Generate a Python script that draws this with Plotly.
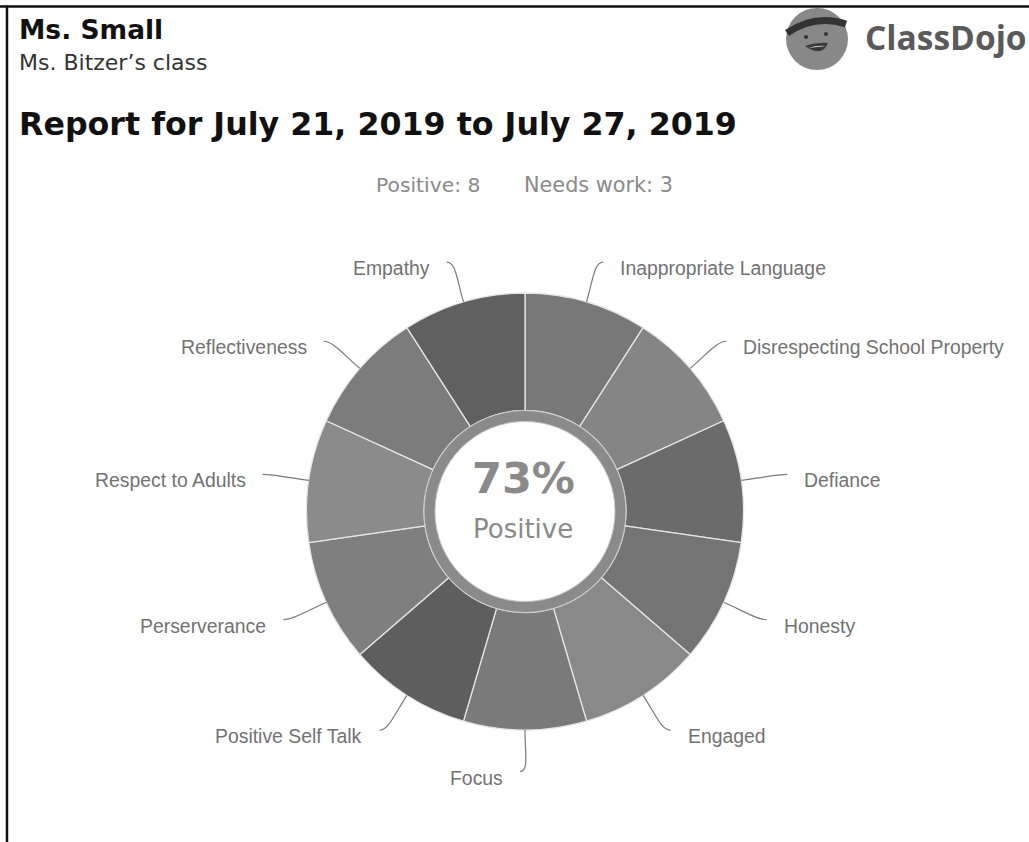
import math
import plotly.graph_objects as go

W, H = 1029, 842

# ---------------- data ----------------
categories = ["Inappropriate Language", "Disrespecting School Property", "Defiance",
              "Honesty", "Engaged", "Focus", "Positive Self Talk", "Perserverance",
              "Respect to Adults", "Reflectiveness", "Empathy"]
counts = [1, 1, 1, 1, 1, 1, 1, 1, 1, 1, 1]
kinds = ["needs", "needs", "needs", "pos", "pos", "pos", "pos", "pos", "pos", "pos", "pos"]
slice_colors = ["#787878", "#858585", "#6b6b6b", "#747474", "#898989", "#7a7a7a",
                "#5e5e5e", "#7f7f7f", "#8b8b8b", "#7c7c7c", "#606060"]
student = "Ms. Small"
klass = "Ms. Bitzer\u2019s class"
report_title = "Report for July 21, 2019 to July 27, 2019"

positive = sum(c for c, k in zip(counts, kinds) if k == "pos")
needs = sum(c for c, k in zip(counts, kinds) if k == "needs")
total = positive + needs
pct = round(100 * positive / total)

# ---------------- geometry (pixels) ----------------
CX, CY = 525.0, 511.5
R_OUT = 218.5
R_IN = 101.0
RING_IN = 90.0
LABEL_R = 260.0


def px(x):
    return x / W


def py(y):
    return 1 - y / H


def dom(r):
    return dict(x=[px(CX - r), px(CX + r)], y=[py(CY + r), py(CY - r)])


fig = go.Figure()

fig.add_trace(go.Pie(
    labels=categories, values=counts, sort=False, direction="clockwise", rotation=0,
    hole=R_IN / R_OUT, domain=dom(R_OUT), textinfo="none", hoverinfo="label+value",
    marker=dict(colors=slice_colors, line=dict(color="#e6e6e6", width=1.3)),
    showlegend=False,
))

fig.add_trace(go.Pie(
    labels=["Positive"], values=[total], sort=False, hole=RING_IN / R_IN, domain=dom(R_IN),
    textinfo="none", hoverinfo="skip",
    marker=dict(colors=["#8a8a8a"], line=dict(color="#c8c8c8", width=1)),
    showlegend=False,
))

shapes = []
annotations = []

# slice labels with curved connectors
cum = 0.0
for cat, c in zip(categories, counts):
    mid = (cum + c / 2) / total * 2 * math.pi
    cum += c
    sx, sy = math.sin(mid), -math.cos(mid)
    side = 1 if mid < math.pi - 1e-9 else -1
    ex, ey = CX + R_OUT * sx, CY + R_OUT * sy
    pxx = CX + LABEL_R * sx + side * 5
    pyy = CY + LABEL_R * sy
    c1x, c1y = CX + (R_OUT + 24) * sx, CY + (R_OUT + 24) * sy
    c2x, c2y = pxx - side * 9, pyy
    path = "M {:.4f},{:.4f} C {:.4f},{:.4f} {:.4f},{:.4f} {:.4f},{:.4f}".format(
        px(ex), py(ey), px(c1x), py(c1y), px(c2x), py(c2y), px(pxx), py(pyy))
    shapes.append(dict(type="path", path=path, xref="paper", yref="paper",
                       line=dict(color="#7a7a7a", width=1.2)))
    annotations.append(dict(
        text=cat, x=px(pxx + side * 15), y=py(pyy + 6), xref="paper", yref="paper",
        xanchor="left" if side > 0 else "right", yanchor="middle", showarrow=False,
        font=dict(family="Liberation Sans, Arial", size=19.4, color="#727272")))

# centre text
annotations.append(dict(text="<b>{}%</b>".format(pct), x=px(523), y=py(478), xref="paper", yref="paper",
                        showarrow=False, xanchor="center", yanchor="middle",
                        font=dict(family="DejaVu Sans", size=43, color="#8a8a8a")))
annotations.append(dict(text="Positive", x=px(523), y=py(529), xref="paper", yref="paper",
                        showarrow=False, xanchor="center", yanchor="middle",
                        font=dict(family="DejaVu Sans", size=26, color="#8a8a8a")))

# counts line
annotations.append(dict(text="Positive: {}".format(positive), x=px(374), y=py(185), xref="paper", yref="paper",
                        showarrow=False, xanchor="left", yanchor="middle",
                        font=dict(family="DejaVu Sans", size=20.3, color="#8a8a8a")))
annotations.append(dict(text="Needs work: {}".format(needs), x=px(522), y=py(185), xref="paper", yref="paper",
                        showarrow=False, xanchor="left", yanchor="middle",
                        font=dict(family="DejaVu Sans", size=20.8, color="#8a8a8a")))

# header texts
annotations.append(dict(text="<b>{}</b>".format(student), x=px(17), y=py(29), xref="paper", yref="paper",
                        showarrow=False, xanchor="left", yanchor="middle",
                        font=dict(family="DejaVu Sans", size=26.5, color="#111111")))
annotations.append(dict(text=klass, x=px(17), y=py(62), xref="paper", yref="paper",
                        showarrow=False, xanchor="left", yanchor="middle",
                        font=dict(family="DejaVu Sans", size=22, color="#333333")))
annotations.append(dict(text="<b>{}</b>".format(report_title), x=px(17), y=py(124), xref="paper", yref="paper",
                        showarrow=False, xanchor="left", yanchor="middle",
                        font=dict(family="DejaVu Sans", size=31.7, color="#111111")))

# ClassDojo logo
annotations.append(dict(text="<b>ClassDojo</b>", x=px(863), y=py(37), xref="paper", yref="paper",
                        showarrow=False, xanchor="left", yanchor="middle",
                        font=dict(family="Open Sans", size=33.5, color="#5a5a5a")))
LX, LY, LR = 817, 39, 31
shapes.append(dict(type="circle", xref="paper", yref="paper",
                   x0=px(LX - LR), x1=px(LX + LR), y0=py(LY + LR), y1=py(LY - LR),
                   fillcolor="#888888", line=dict(width=0)))
shapes.append(dict(type="path", xref="paper", yref="paper",
                   path="M {},{} Q {},{} {},{}".format(px(787), py(33), px(815), py(14), px(846), py(24)),
                   line=dict(color="#333333", width=7)))
shapes.append(dict(type="path", xref="paper", yref="paper",
                   path="M {},{} Q {},{} {},{} Q {},{} {},{} Z".format(
                       px(805), py(46), px(818), py(42), px(828), py(43),
                       px(822), py(58), px(805), py(46)),
                   fillcolor="#3a3a3a", line=dict(width=0)))
shapes.append(dict(type="path", xref="paper", yref="paper",
                   path="M {},{} Q {},{} {},{} Z".format(
                       px(808), py(48), px(818), py(45), px(826), py(46)),
                   fillcolor="#dddddd", line=dict(width=0)))
for ex_, ey_ in [(806, 37), (826, 34)]:
    shapes.append(dict(type="circle", xref="paper", yref="paper",
                       x0=px(ex_ - 2), x1=px(ex_ + 2), y0=py(ey_ + 2), y1=py(ey_ - 2),
                       fillcolor="#333333", line=dict(width=0)))

# frame lines (top and left)
shapes.append(dict(type="line", xref="paper", yref="paper", x0=0, x1=1, y0=py(6.5), y1=py(6.5),
                   line=dict(color="#111111", width=2.5)))
shapes.append(dict(type="line", xref="paper", yref="paper", x0=px(7), x1=px(7), y0=0, y1=py(5.5),
                   line=dict(color="#111111", width=2.5)))

fig.update_layout(
    width=W, height=H, margin=dict(l=0, r=0, t=0, b=0),
    paper_bgcolor="white", plot_bgcolor="white",
    shapes=shapes, annotations=annotations, showlegend=False,
)

fig.write_html("out.html", config={"displayModeBar": False},
               post_script="document.body.style.margin='0';")
